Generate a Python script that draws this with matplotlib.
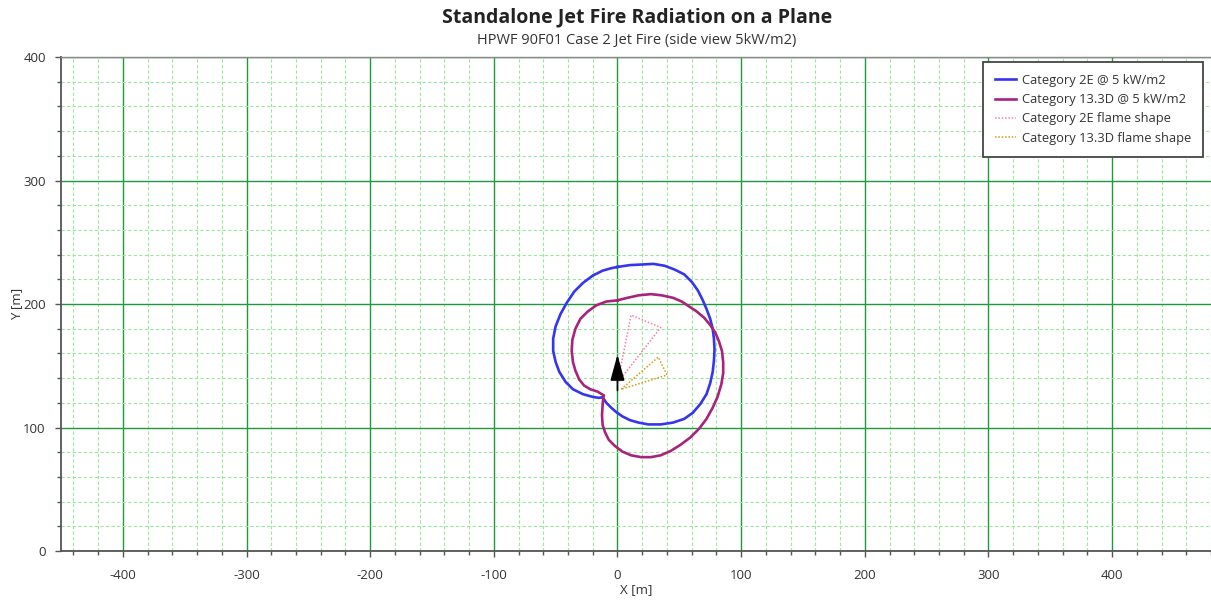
import matplotlib
matplotlib.use("Agg")
import matplotlib.pyplot as plt
from matplotlib.ticker import MultipleLocator

plt.rcParams['font.family'] = ['Open Sans', 'DejaVu Sans']
plt.rcParams['axes.unicode_minus'] = False

# ---- data ----
cat2e_x = [0, 10, 20, 29, 38, 46, 54, 60, 65, 69, 72, 75, 77, 78, 78.5, 78, 77, 75, 72, 67, 61, 54, 45, 35,
           25, 17, 10, 4, -1, -5, -9, -11, -12, -15, -20, -28, -36, -42, -47, -50, -52, -52, -50, -46, -41,
           -35, -28, -20, -12, -5, 0]
cat2e_y = [230, 231.5, 232, 232.5, 231, 228, 224, 218, 211, 203, 196, 188, 180, 172, 163, 154, 145, 136, 127,
           119, 112, 107, 104, 102.5, 102.5, 104, 106, 109, 112.5, 116, 120, 123, 124.5, 124, 124.8, 127, 131,
           137, 145, 153, 162, 172, 182, 192, 201, 210, 217, 223, 227, 229, 230]

cat13_x = [0, 8, 17, 27, 36, 45, 52, 58, 64, 70, 75, 79, 82, 84.5, 85.5, 85.5, 84, 81, 77, 72, 66, 59, 51, 43,
           35, 27, 19, 11, 4, -2, -7, -10, -12, -12.5, -12, -11.5, -11, -16, -22, -27, -31, -34, -36, -37,
           -36.5, -34, -30, -24, -17, -9, 0]
cat13_y = [203, 205, 207, 208, 207, 205, 202, 198, 194, 189, 183, 177, 170, 162, 153, 144, 135, 125, 116, 107,
           99, 92, 86, 81, 77.5, 76, 76, 77.5, 80.5, 85, 90, 96, 102, 110, 118, 124, 126, 129, 131, 134, 139,
           146, 153, 162, 171, 180, 188, 194, 199, 202, 203]

flame2e_x = [0, 11, 35, 0]
flame2e_y = [136, 191, 181, 136]

flame13_x = [3, 33, 40, 3]
flame13_y = [131, 157, 142.5, 131]

release_x = 0
release_y = [130, 159]

labels = ["Category 2E @ 5 kW/m2", "Category 13.3D @ 5 kW/m2",
          "Category 2E flame shape", "Category 13.3D flame shape"]

fig = plt.figure(figsize=(12.11, 6.02), dpi=100)
ax = fig.add_axes([0.0504, 0.0847, 0.9496, 0.8206])

ax.set_xlim(-450, 480)
ax.set_ylim(0, 400)

ax.xaxis.set_major_locator(MultipleLocator(100))
ax.xaxis.set_minor_locator(MultipleLocator(20))
ax.yaxis.set_major_locator(MultipleLocator(100))
ax.yaxis.set_minor_locator(MultipleLocator(20))

ax.grid(which='minor', color='#9ee69e', linestyle=(0, (3, 2)), linewidth=0.8)
ax.grid(which='major', color='#1e9a3a', linestyle='-', linewidth=1.0)
ax.set_axisbelow(True)

ax.plot(cat2e_x, cat2e_y, color='#3535f0', lw=1.9, label=labels[0], zorder=3)
ax.plot(cat13_x, cat13_y, color='#a8237c', lw=1.9, label=labels[1], zorder=3)
ax.plot(flame2e_x, flame2e_y, color='#ff7aa8', lw=1.1, ls=(0, (1, 1.2)), label=labels[2], zorder=3)
ax.plot(flame13_x, flame13_y, color='#d49a1c', lw=1.1, ls=(0, (1, 1.2)), label=labels[3], zorder=3)

ax.annotate('', xy=(release_x, release_y[1]), xytext=(release_x, release_y[0]),
            arrowprops=dict(arrowstyle='-|>,head_length=0.8,head_width=0.22', color='black',
                            lw=1.2, mutation_scale=20, shrinkA=0, shrinkB=0), zorder=4)

ax.spines['right'].set_visible(False)
ax.spines['top'].set_color('#888888')
ax.spines['top'].set_linewidth(1.0)
for s in ['left', 'bottom']:
    ax.spines[s].set_color('#555555')
    ax.spines[s].set_linewidth(1.3)

ax.tick_params(which='both', direction='out', length=3, width=1, color='#555555',
               labelsize=9.5, labelcolor='#333333')
ax.tick_params(axis='x', which='both', pad=9)
ax.tick_params(axis='y', which='both', pad=7)
ax.tick_params(axis='both', which='major', length=4)

ax.set_xlabel('X [m]', fontsize=9.5, color='#333333', labelpad=1)
ax.set_ylabel('Y [m]', fontsize=9.5, color='#333333', labelpad=0)

fig.text(0.526, 0.971, 'Standalone Jet Fire Radiation on a Plane', ha='center', va='center',
         fontsize=14, fontweight='bold', color='#222222')
fig.text(0.526, 0.933, 'HPWF 90F01 Case 2 Jet Fire (side view 5kW/m2)', ha='center', va='center',
         fontsize=10.5, color='#333333')

leg = ax.legend(loc='upper right', bbox_to_anchor=(0.993, 0.99), fontsize=9.3, frameon=True,
                fancybox=False, handlelength=1.6, handletextpad=0.5, borderpad=0.9,
                labelspacing=0.5, borderaxespad=0)
leg.get_frame().set_edgecolor('#444444')
leg.get_frame().set_linewidth(1.3)
leg.get_frame().set_alpha(1)
for t in leg.get_texts():
    t.set_color('#333333')

fig.savefig('out.png', dpi=100)
